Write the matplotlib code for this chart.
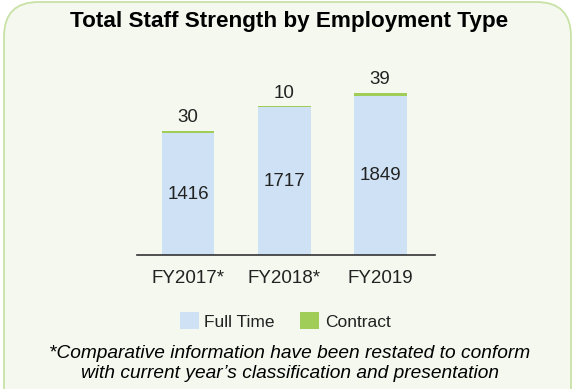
import matplotlib
matplotlib.use("Agg")
import matplotlib.pyplot as plt
from matplotlib.patches import FancyBboxPatch, Patch

# data
years = ["FY2017*", "FY2018*", "FY2019"]
full_time = [1416, 1717, 1849]
contract = [30, 10, 39]

blue = "#cfe2f5"
green = "#9fcd58"
bg = "#f5f8ef"
txt = "#222222"

plt.rcParams["font.family"] = ["Liberation Sans", "DejaVu Sans"]

W, H = 575, 389
fig = plt.figure(figsize=(W / 100, H / 100), dpi=100)
fig.patch.set_facecolor("white")

# rounded panel behind everything (bottom runs off the image)
panel = FancyBboxPatch((4 / W, -40 / H), (571 - 4) / W, (H - 2 + 40) / H,
                       boxstyle="round,pad=0,rounding_size=0.06",
                       transform=fig.transFigure, facecolor=bg,
                       edgecolor="#c8e2a6", linewidth=1.3, mutation_aspect=W / H,
                       zorder=-5)
fig.patches.append(panel)

fig.text(289 / W, 1 - 22 / H, "Total Staff Strength by Employment Type",
         ha="center", va="center", fontsize=16.2, fontweight="bold", color="black")

# axes placed in pixel terms: x 137..435, baseline at y=255
ax = fig.add_axes([137 / W, (H - 255) / H, (435 - 137) / W, 172 / H])
ax.set_zorder(2)
ax.set_facecolor("none")
x = range(len(years))
ax.bar(x, full_time, width=0.55, color=blue, zorder=2)
ax.bar(x, contract, width=0.55, bottom=full_time, color=green, zorder=2)

for i in x:
    ax.text(i, full_time[i] / 2, str(full_time[i]), ha="center", va="center",
            fontsize=13.5, color=txt)
    ax.annotate(str(contract[i]), (i, full_time[i] + contract[i]),
                xytext=(0, 3), textcoords="offset points",
                ha="center", va="bottom", fontsize=13.5, color=txt)

ax.set_xlim(-0.53, 2.57)
ax.set_ylim(0, 2000)
ax.set_xticks(list(x))
ax.set_xticklabels(years, fontsize=13.5, color=txt)
ax.tick_params(axis="x", length=0, pad=11)
ax.set_yticks([])
for s in ["top", "right", "left"]:
    ax.spines[s].set_visible(False)
ax.spines["bottom"].set_color("#333333")
ax.spines["bottom"].set_linewidth(1.2)

handles = [Patch(facecolor=blue, label="Full Time"),
           Patch(facecolor=green, label="Contract")]
fig.legend(handles=handles, loc="center", bbox_to_anchor=(285 / W, 1 - 321 / H),
           ncol=2, frameon=False, fontsize=12.5, handlelength=1.1,
           handleheight=1.1, handletextpad=0.3, columnspacing=1.5,
           labelcolor=txt)

fig.text(290 / W, 1 - 353 / H,
         "*Comparative information have been restated to conform",
         ha="center", va="center", fontsize=13.8, style="italic", color="black")
fig.text(290 / W, 1 - 374 / H,
         "with current year\u2019s classification and presentation",
         ha="center", va="center", fontsize=13.8, style="italic", color="black")

fig.savefig("out.png", dpi=100, facecolor=fig.get_facecolor())
